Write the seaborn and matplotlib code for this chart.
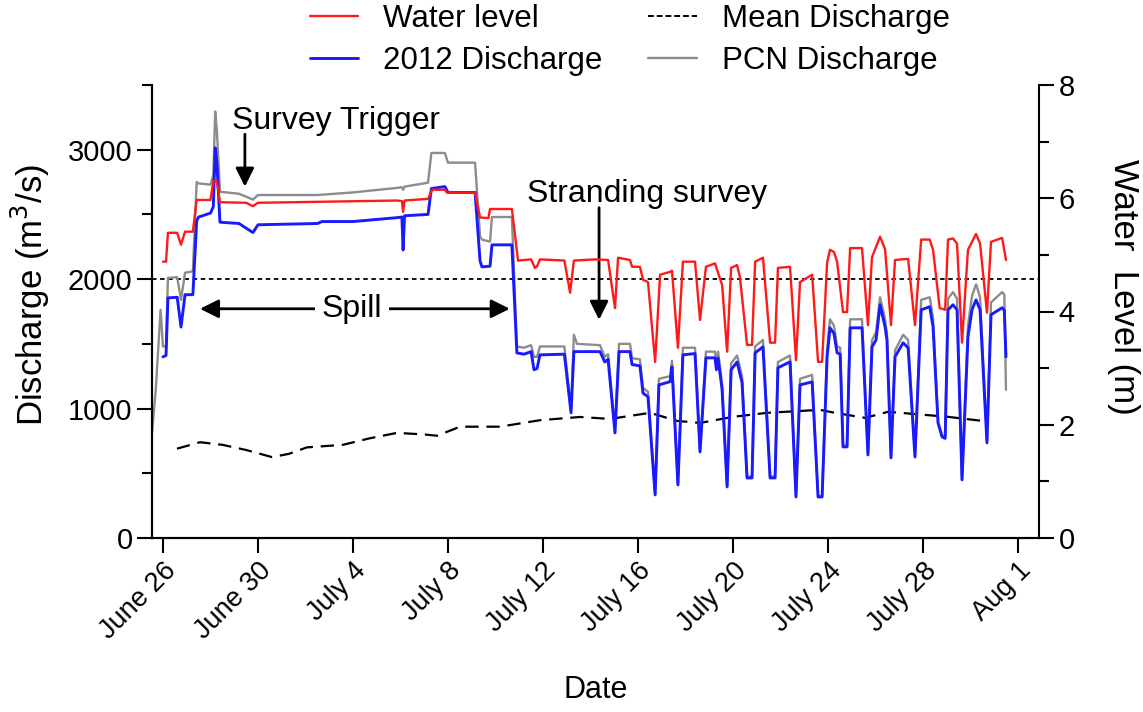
import matplotlib
matplotlib.use('Agg')
import matplotlib.pyplot as plt
from matplotlib.lines import Line2D
from matplotlib.ticker import MultipleLocator
import seaborn as sns

# dias contados a partir de 26 de junho de 2012
tick_days = [0, 4, 8, 12, 16, 20, 24, 28, 32, 36]
tick_labels = ['June 26', 'June 30', 'July 4', 'July 8', 'July 12', 'July 16',
               'July 20', 'July 24', 'July 28', 'Aug 1']

# 2012 Discharge (m3/s)
q2012_day = [0.0, 0.13, 0.21, 0.6, 0.76, 0.93, 1.26, 1.42, 1.5, 2.0, 2.12, 2.2, 2.27, 2.4,
             3.2, 3.79, 4.0, 6.5, 6.7, 8.0, 9.85, 10.06, 10.11, 10.17, 11.16, 11.3, 11.87, 12.0,
             13.14, 13.35, 13.43, 13.77, 13.85, 14.69, 14.9, 15.2, 15.5, 15.62, 15.75, 15.87,
             16.9, 17.18, 17.3, 18.4, 18.6, 18.74, 19.03, 19.2, 19.66, 19.75, 20.08, 20.21,
             20.42, 20.72, 20.88, 21.35, 21.43, 21.68, 21.89, 22.4, 22.61, 22.86, 23.24, 23.3,
             23.37, 23.54, 23.75, 23.92, 24.17, 24.38, 24.59, 24.8, 24.93, 25.26, 25.56, 25.77,
             25.89, 26.4, 26.65, 26.82, 27.33, 27.58, 27.75, 27.96, 28.08, 28.25, 28.38, 28.51,
             28.63, 28.8, 28.93, 29.43, 29.68, 29.85, 30.02, 30.19, 30.4, 30.48, 30.65, 30.82,
             31.16, 31.37, 31.66, 31.92, 32.28, 32.42, 32.63, 32.8, 32.93, 33.05, 33.26, 33.43,
             33.64, 33.89, 34.06, 34.23, 34.4, 34.69, 34.86, 35.33, 35.42, 35.49]
q2012 = [1400, 1410, 1855, 1860, 1630, 1880, 1880, 2450, 2480, 2510, 2560, 3015, 2900, 2440,
         2430, 2360, 2420, 2430, 2445, 2445, 2475, 2480, 2225, 2490, 2500, 2700, 2715, 2670,
         2670, 2140, 2095, 2100, 2265, 2265, 1430, 1420, 1440, 1300, 1310, 1415,
         1420, 967, 1440, 1440, 1360, 1380, 812, 1440, 1440, 1340, 1330, 1120,
         1090, 333, 1183, 1208, 1323, 410, 1415, 1425, 665, 1392, 1392, 1300,
         1390, 1145, 395, 1300, 1360, 1200, 464, 464, 1430, 1477, 464, 464,
         1315, 1361, 317, 1183, 1206, 317, 317, 1400, 1624, 1580, 1431, 1420,
         704, 704, 1624, 1624, 642, 1477, 1530, 1802, 1632, 1530, 619, 1400,
         1508, 1469, 626, 1763, 1787, 1632, 889, 781, 770, 1763, 1802, 1763,
         449, 1555, 1763, 1840, 1763, 735, 1725, 1779, 1760, 1400]

# PCN Discharge (m3/s)
pcn_day = [-0.46, -0.3, -0.1, -0.04, 0.0, 0.13, 0.21, 0.6, 0.76, 0.93, 1.26, 1.42, 1.5, 2.0,
           2.12, 2.2, 2.27, 2.4, 3.2, 3.79, 4.0, 6.5, 8.0, 9.85, 10.06, 10.11, 10.17, 11.16,
           11.3, 11.87, 12.0, 13.14, 13.35, 13.43, 13.77, 13.85, 14.69, 14.9, 15.2, 15.5, 15.62,
           15.75, 15.87, 16.9, 17.18, 17.3, 17.43, 18.4, 18.6, 18.74, 19.03, 19.2, 19.66, 19.75,
           20.08, 20.21, 20.42, 20.72, 20.88, 21.35, 21.43, 21.68, 21.89, 22.4, 22.61, 22.86,
           23.24, 23.3, 23.37, 23.54, 23.75, 23.92, 24.17, 24.38, 24.59, 24.8, 24.93, 25.26,
           25.56, 25.77, 25.89, 26.4, 26.65, 26.82, 27.33, 27.58, 27.75, 27.96, 28.08, 28.25,
           28.38, 28.51, 28.63, 28.8, 28.93, 29.43, 29.68, 29.85, 30.02, 30.19, 30.4, 30.48,
           30.65, 30.82, 31.16, 31.37, 31.66, 31.92, 32.28, 32.42, 32.63, 32.8, 32.93, 33.05,
           33.26, 33.43, 33.64, 33.89, 34.06, 34.23, 34.4, 34.69, 34.86, 35.33, 35.42, 35.49]
pcn = [812, 1150, 1763, 1600, 1480, 1480, 2010, 2015, 1840, 2050, 2060, 2750, 2740, 2730,
       2800, 3295, 3150, 2675, 2660, 2615, 2650, 2650, 2670, 2705, 2710, 2690, 2715, 2745,
       2975, 2975, 2900, 2900, 2330, 2305, 2290, 2480, 2480, 1480, 1470, 1490, 1400,
       1400, 1480, 1480, 990, 1570, 1500, 1490, 1400, 1420, 830, 1500, 1500, 1390,
       1380, 1160, 1130, 340, 1230, 1250, 1370, 420, 1470, 1470, 680, 1440,
       1440, 1350, 1440, 1190, 405, 1350, 1410, 1250, 475, 475, 1480, 1530,
       475, 475, 1360, 1410, 325, 1230, 1260, 325, 325, 1450, 1690, 1640,
       1480, 1470, 715, 715, 1690, 1690, 655, 1530, 1590, 1860, 1690, 1580,
       630, 1450, 1570, 1530, 640, 1840, 1860, 1700, 900, 790, 780, 1850,
       1900, 1850, 460, 1640, 1870, 1960, 1860, 750, 1820, 1900, 1880, 1145]

# Water level (m)
level_day = [0.0, 0.13, 0.21, 0.6, 0.76, 0.93, 1.26, 1.42, 2.0, 2.12, 2.27, 2.4, 3.5, 3.79,
             4.0, 9.85, 10.06, 10.11, 10.17, 11.16, 11.33, 11.87, 11.95, 13.14, 13.35, 13.7,
             13.77, 14.69, 14.95, 15.5, 15.66, 15.75, 15.87, 16.9, 17.14, 17.3, 18.2, 18.74,
             19.03, 19.16, 19.66, 19.75, 20.08, 20.21, 20.42, 20.72, 20.93, 21.35, 21.43,
             21.68, 21.89, 22.4, 22.61, 22.86, 23.24, 23.54, 23.75, 23.92, 24.17, 24.29, 24.59,
             24.8, 24.93, 25.26, 25.56, 25.77, 25.89, 26.4, 26.65, 26.82, 27.33, 27.58, 27.75,
             27.96, 28.08, 28.25, 28.38, 28.63, 28.8, 28.93, 29.43, 29.68, 29.85, 30.19, 30.4,
             30.65, 30.82, 31.37, 31.66, 31.92, 32.28, 32.42, 32.7, 32.93, 33.05, 33.26, 33.43,
             33.64, 33.89, 34.23, 34.4, 34.69, 34.86, 35.33, 35.49]
level = [4.88, 4.88, 5.39, 5.39, 5.18, 5.41, 5.41, 5.97, 5.97, 6.3, 6.3, 5.93, 5.92, 5.86,
         5.92, 5.96, 5.95, 5.76, 5.96, 5.99, 6.15, 6.15, 6.1, 6.1, 5.66, 5.65,
         5.81, 5.81, 4.9, 4.92, 4.77, 4.8, 4.92, 4.9, 4.33, 4.9, 4.92, 4.91,
         4.06, 4.95, 4.91, 4.79, 4.79, 4.56, 4.52, 3.11, 4.65, 4.70, 4.72,
         3.36, 4.88, 4.88, 3.85, 4.79, 4.85, 4.47, 3.29, 4.77, 4.82, 4.61, 3.41,
         3.41, 4.88, 4.95, 3.45, 3.45, 4.77, 4.79, 3.14, 4.52, 4.65, 3.11, 3.11,
         4.86, 5.09, 5.05, 4.88, 3.99, 3.99, 5.12, 5.12, 3.76, 4.96, 5.32, 5.1,
         3.76, 4.91, 4.93, 3.76, 5.27, 5.27, 5.09, 4.06, 4.03, 5.27, 5.29, 5.2,
         3.45, 5.09, 5.37, 5.2, 3.98, 5.23, 5.30, 4.91]

# Mean Discharge (m3/s)
mean_day = [0.59, 1.56, 2.5, 3.5, 4.59, 5.3, 6.06, 7.58, 8.7, 9.85, 11.0, 11.54, 12.51, 14.19,
            15.87, 17.56, 18.82, 20.51, 21.64, 22.61, 24.0, 25.43, 27.66, 28.29, 29.56, 30.53,
            31.5, 33.05, 34.48]
mean_q = [690, 740, 720, 680, 625, 650, 700, 720, 770, 812, 800, 790, 860, 860,
          910, 935, 920, 967, 905, 889, 936, 967, 990, 967, 928, 975,
          960, 936, 905]

sns.set_style('ticks')
plt.rcParams['font.family'] = ['Liberation Sans', 'DejaVu Sans']
for k in ('text.color', 'axes.labelcolor', 'xtick.color', 'ytick.color', 'axes.edgecolor'):
    plt.rcParams[k] = 'black'

fig = plt.figure(figsize=(11.43, 7.12), dpi=100)
ax = fig.add_axes([0.133, 0.2444, 0.776, 0.6362])
ax2 = ax.twinx()

sns.lineplot(x=mean_day, y=mean_q, ax=ax, color='black', lw=1.6, estimator=None, sort=False)
ax.lines[-1].set_dashes([6, 3.5])
ax.axhline(2000, color='black', lw=1.3, ls=(0, (2.5, 2)))
sns.lineplot(x=pcn_day, y=pcn, ax=ax, color='#8c8c8c', lw=1.7, estimator=None, sort=False)
sns.lineplot(x=q2012_day, y=q2012, ax=ax, color='#1a1aff', lw=2.1, estimator=None, sort=False)
sns.lineplot(x=level_day, y=level, ax=ax2, color='#ff1a1a', lw=1.7, estimator=None, sort=False)

ax.set_xlim(-0.46, 36.88)
ax.set_ylim(0, 3500)
ax2.set_ylim(0, 8)

ax.set_xticks(tick_days)
ax.set_xticklabels(tick_labels, rotation=45, ha='right', rotation_mode='anchor', fontsize=19.5)
ax.set_yticks([0, 1000, 2000, 3000])
ax.yaxis.set_minor_locator(MultipleLocator(500))
ax2.set_yticks([0, 2, 4, 6, 8])
ax2.yaxis.set_minor_locator(MultipleLocator(1))
ax.tick_params(axis='y', labelsize=21, length=11, width=1.5, pad=3)
ax.tick_params(axis='y', which='minor', length=7, width=1.5)
ax.tick_params(axis='x', length=11, width=1.5, pad=3)
ax2.tick_params(axis='y', labelsize=21, length=11, width=1.5, pad=3)
ax2.tick_params(axis='y', which='minor', length=7, width=1.5)

for a in (ax, ax2):
    a.spines['top'].set_visible(False)
    for s in ('left', 'right', 'bottom'):
        a.spines[s].set_linewidth(1.5)
ax.spines['right'].set_visible(False)

ax.set_xlabel('Date', fontsize=22, labelpad=22)
ax.set_ylabel('Discharge (m$^3$/s)', fontsize=25)
ax.yaxis.set_label_coords(-0.113, 0.536)
ax2.set_ylabel('Water  Level (m)', fontsize=25, rotation=270)
ax2.yaxis.set_label_coords(1.114, 0.555)

# anotações
ax.annotate('', xy=(3.45, 2715), xytext=(3.45, 3120),
            arrowprops=dict(arrowstyle='-|>', color='black', lw=2, mutation_scale=28,
                            shrinkA=0, shrinkB=0))
ax.text(2.9, 3225, 'Survey Trigger', fontsize=23, ha='left', va='center')

ax.annotate('', xy=(1.56, 1771), xytext=(14.6, 1771),
            arrowprops=dict(arrowstyle='<|-|>', color='black', lw=2, mutation_scale=28,
                            shrinkA=0, shrinkB=0))
ax.text(7.96, 1771, 'Spill', fontsize=23, ha='center', va='center', zorder=6,
        bbox=dict(facecolor='white', edgecolor='none', pad=5))

ax.annotate('', xy=(18.36, 1686), xytext=(18.36, 2552),
            arrowprops=dict(arrowstyle='-|>', color='black', lw=2, mutation_scale=28,
                            shrinkA=0, shrinkB=0))
ax.text(20.4, 2660, 'Stranding survey', fontsize=23, ha='center', va='center')

handles = [Line2D([], [], color='#ff1a1a', lw=1.7),
           Line2D([], [], color='#1a1aff', lw=2.1),
           Line2D([], [], color='black', lw=1.4, dashes=[3, 1.5]),
           Line2D([], [], color='#8c8c8c', lw=1.7)]
names = ['Water level', '2012 Discharge', 'Mean Discharge', 'PCN Discharge']
fig.legend(handles, names, ncol=2, loc='center', bbox_to_anchor=(0.551, 0.944),
           frameon=False, prop={'size': 22.5},
           handlelength=1.55, handletextpad=0.8, columnspacing=1.45, labelspacing=0.38)

fig.savefig('out.png', dpi=100)
